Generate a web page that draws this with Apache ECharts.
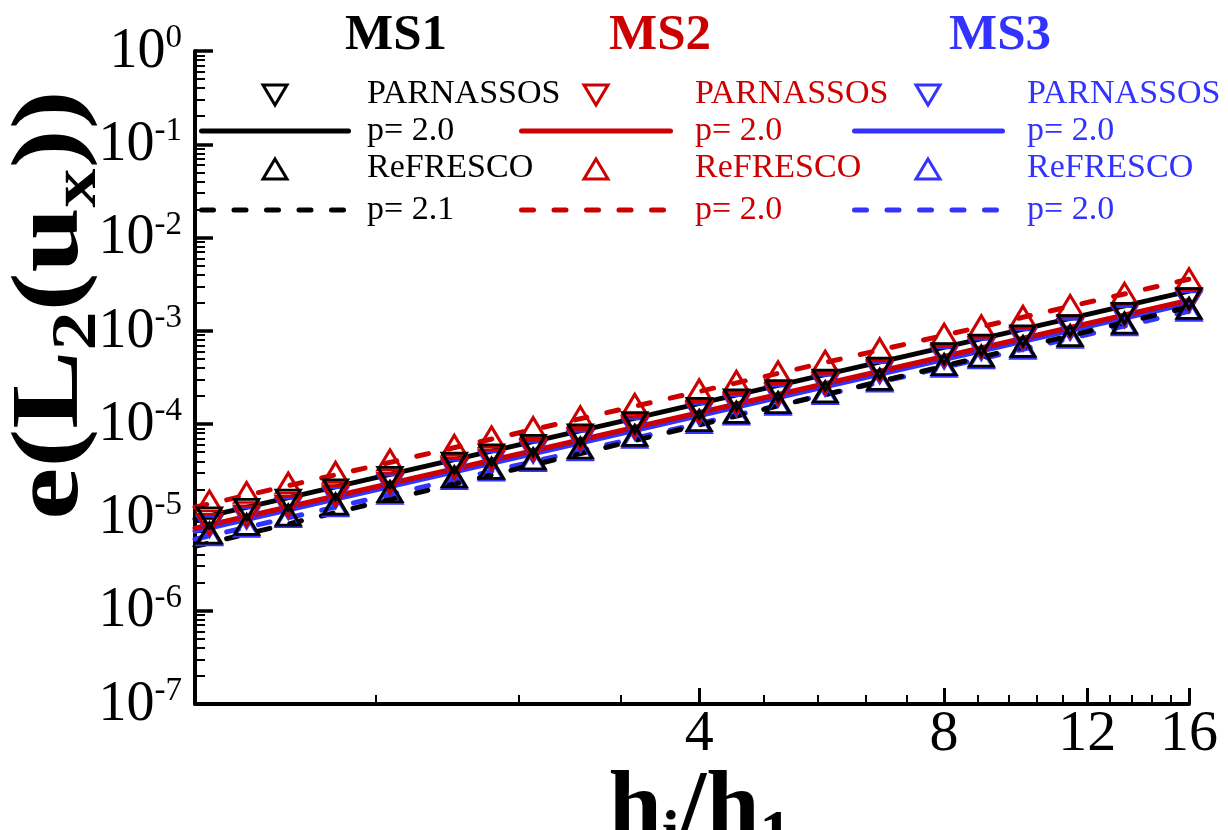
<!DOCTYPE html>
<html>
<head>
<meta charset="utf-8">
<script src="https://cdn.jsdelivr.net/npm/echarts@6/dist/echarts.min.js"></script>
<style>
  html, body { margin: 0; padding: 0; background: #fff; }
  #chart { width: 1228px; height: 830px; }
</style>
</head>
<body>
<div id="chart"></div>
<script>
// Grid refinement ratio h_i/h_1
const hRatio = [1, 1.111, 1.25, 1.429, 1.667, 2, 2.222, 2.5, 2.857, 3.333, 4,
                4.444, 5, 5.714, 6.667, 8, 8.889, 10, 11.43, 13.33, 16];

// L2 error of u_x per solver and grid family
const ms1Parnassos = [9.9e-6, 1.22e-5, 1.53e-5, 1.98e-5, 2.68e-5, 3.83e-5, 4.69e-5, 5.91e-5, 7.67e-5, 1.04e-4, 1.48e-4,
                      1.82e-4, 2.29e-4, 2.97e-4, 3.99e-4, 5.71e-4, 7.03e-4, 8.82e-4, 1.14e-3, 1.54e-3, 2.21e-3];
const ms1Refresco  = [6.8e-6, 8.40e-6, 1.06e-5, 1.39e-5, 1.89e-5, 2.72e-5, 3.36e-5, 4.25e-5, 5.55e-5, 7.56e-5, 1.09e-4,
                      1.34e-4, 1.70e-4, 2.22e-4, 3.02e-4, 4.35e-4, 5.37e-4, 6.80e-4, 8.88e-4, 1.21e-3, 1.74e-3];
const ms2Parnassos = [8.4e-6, 1.04e-5, 1.31e-5, 1.71e-5, 2.33e-5, 3.36e-5, 4.15e-5, 5.25e-5, 6.86e-5, 9.33e-5, 1.34e-4,
                      1.66e-4, 2.10e-4, 2.74e-4, 3.73e-4, 5.38e-4, 6.64e-4, 8.40e-4, 1.10e-3, 1.49e-3, 2.15e-3];
const ms2Refresco  = [1.5e-5, 1.85e-5, 2.33e-5, 3.04e-5, 4.13e-5, 5.92e-5, 7.29e-5, 9.20e-5, 1.20e-4, 1.63e-4, 2.33e-4,
                      2.87e-4, 3.63e-4, 4.73e-4, 6.42e-4, 9.21e-4, 1.13e-3, 1.43e-3, 1.87e-3, 2.53e-3, 3.62e-3];
const ms3Parnassos = [8.0e-6, 9.88e-6, 1.25e-5, 1.63e-5, 2.22e-5, 3.20e-5, 3.95e-5, 5.00e-5, 6.53e-5, 8.89e-5, 1.28e-4,
                      1.58e-4, 2.00e-4, 2.61e-4, 3.56e-4, 5.12e-4, 6.32e-4, 8.00e-4, 1.04e-3, 1.42e-3, 2.05e-3];
const ms3Refresco  = [6.5e-6, 8.03e-6, 1.02e-5, 1.33e-5, 1.81e-5, 2.60e-5, 3.21e-5, 4.06e-5, 5.31e-5, 7.22e-5, 1.04e-4,
                      1.28e-4, 1.63e-4, 2.12e-4, 2.89e-4, 4.16e-4, 5.14e-4, 6.50e-4, 8.49e-4, 1.16e-3, 1.66e-3];

// Power-law fits e = C * (h_i/h_1)^p, order: MS1 PARNASSOS, MS1 ReFRESCO, MS2 ..., MS3 ...
const fitCoef  = [1.04e-5, 5.33e-6, 8.31e-6, 1.40e-5, 7.71e-6, 6.34e-6];
const fitOrder = [2.0, 2.1, 2.0, 2.0, 2.0, 2.0];

const gridNames   = ['MS1', 'MS2', 'MS3'];
const solverNames = ['PARNASSOS', 'ReFRESCO'];
const gridColors  = ['#000000', '#cc0000', '#3333ff'];

// Axis ticks
const xRange = [0.96, 16];
const xLabelTicks = [4, 8, 12, 16];
const xMinorTicks = [1.6, 2.4, 3.2, 4.8, 5.6, 6.4, 7.2, 8.8, 9.6, 10.4, 11.2, 12.8, 13.6, 14.4, 15.2];
const yDecades = [1e-7, 1e-6, 1e-5, 1e-4, 1e-3, 1e-2, 1e-1, 1];
const yMinorSteps = [2, 3, 4, 5, 6, 7, 8, 9];

const serif = '"Liberation Serif", "Times New Roman", serif';
const dashPattern = [12, 20.5];

const errorData = [ms1Parnassos, ms1Refresco, ms2Parnassos, ms2Refresco, ms3Parnassos, ms3Refresco];

const yMinorTicks = [];
yDecades.slice(0, -1).forEach(d => yMinorSteps.forEach(k => yMinorTicks.push(+(d * k).toPrecision(3))));

const fitSeries = [];
const markerSeries = [];
// MS3 first, MS1 last so the black marks end up on top
[2, 1, 0].forEach(g => {
  solverNames.forEach((solver, s) => {
    const idx = g * 2 + s;
    fitSeries.push({
      name: gridNames[g] + ' ' + solver + ' fit',
      type: 'line',
      symbol: 'none',
      silent: true,
      lineStyle: { color: gridColors[g], width: 5, cap: 'round', type: s === 0 ? 'solid' : dashPattern },
      data: xRange.map(x => [x, fitCoef[idx] * Math.pow(x, fitOrder[idx])]),
      z: 2
    });
  });
});
[2, 1, 0].forEach(g => {
  solverNames.forEach((solver, s) => {
    const idx = g * 2 + s;
    markerSeries.push({
      name: gridNames[g] + ' ' + solver,
      type: 'scatter',
      symbol: 'triangle',
      symbolSize: [24, 20],
      symbolRotate: s === 0 ? 180 : 0,
      itemStyle: { color: 'rgba(255,255,255,0)', borderColor: gridColors[g], borderWidth: 3, opacity: 1 },
      data: hRatio.map((x, i) => [x, errorData[idx][i]]),
      z: 3
    });
  });
});

// Legend block: three columns (one per grid family), four rows each
const legendSymbolX = [275, 596, 928];
const legendLineX = [[199, 351], [519, 673], [852, 1005]];
const legendTextX = [367, 695, 1027];
const legendRowY = [95, 131, 169, 210];
const headerX = [396, 660, 1000];

function triangle(cx, cy, down, color) {
  const w = 12, h = 10;
  const pts = down ? [[cx - w, cy - h], [cx + w, cy - h], [cx, cy + h]]
                   : [[cx, cy - h], [cx + w, cy + h], [cx - w, cy + h]];
  return { type: 'polygon', shape: { points: pts }, z: 10,
           style: { fill: 'none', stroke: color, lineWidth: 3 } };
}
function legendText(x, y, text, color) {
  return { type: 'text', x: x, y: y, z: 10,
           style: { text: text, fill: color, fontFamily: serif, fontSize: 34,
                    align: 'left', verticalAlign: 'middle' } };
}
const legendGraphics = [];
gridNames.forEach((ms, g) => {
  const c = gridColors[g];
  const [x1, x2] = legendLineX[g];
  legendGraphics.push({
    type: 'text', x: headerX[g], y: 10, z: 10,
    style: { text: ms, fill: c, fontFamily: serif, fontWeight: 'bold', fontSize: 51,
             align: 'center', verticalAlign: 'top' }
  });
  solverNames.forEach((solver, s) => {
    const idx = g * 2 + s;
    const ySym = legendRowY[s * 2], yLine = legendRowY[s * 2 + 1];
    legendGraphics.push(triangle(legendSymbolX[g], ySym, s === 0, c));
    legendGraphics.push(legendText(legendTextX[g], ySym - 1, solver, c));
    legendGraphics.push({
      type: 'line', z: 10,
      shape: { x1: x1 + 2.5, y1: yLine, x2: x2 - 2.5, y2: yLine },
      style: { stroke: c, lineWidth: 5, lineCap: 'round', lineDash: s === 0 ? null : dashPattern }
    });
    legendGraphics.push(legendText(legendTextX[g], yLine, 'p= ' + fitOrder[idx].toFixed(1), c));
  });
});

const titleRich = {
  m: { fontFamily: serif, fontWeight: 'bold', fontSize: 96, lineHeight: 96, fill: '#000', verticalAlign: 'top' },
  d: { fontFamily: serif, fontWeight: 'bold', fontSize: 64, lineHeight: 64, fill: '#000', verticalAlign: 'top',
       padding: [42, 0, 0, 0] }
};

const chart = echarts.init(document.getElementById('chart'), null, { renderer: 'canvas' });
chart.setOption({
  animation: false,
  backgroundColor: '#ffffff',
  grid: { left: 195, top: 51, right: 39, bottom: 126, containLabel: false },
  xAxis: [
    {
      type: 'log', logBase: 2, min: xRange[0], max: xRange[1], position: 'bottom',
      axisLine: { show: true, lineStyle: { color: '#000', width: 4 } },
      axisTick: { show: true, inside: true, length: 16, customValues: xLabelTicks,
                  lineStyle: { color: '#000', width: 3 } },
      axisLabel: { show: true, customValues: xLabelTicks, margin: 2,
                   fontFamily: serif, fontSize: 58, color: '#000',
                   formatter: v => String(Math.round(v)) },
      splitLine: { show: false }
    },
    {
      type: 'log', logBase: 2, min: xRange[0], max: xRange[1], position: 'bottom',
      axisLine: { show: false },
      axisTick: { show: true, inside: true, length: 9, customValues: xMinorTicks,
                  lineStyle: { color: '#000', width: 2 } },
      axisLabel: { show: false },
      splitLine: { show: false }
    }
  ],
  yAxis: [
    {
      type: 'log', logBase: 10, min: yDecades[0], max: yDecades[yDecades.length - 1], position: 'left',
      axisLine: { show: true, lineStyle: { color: '#000', width: 4 } },
      axisTick: { show: true, inside: true, length: 18, customValues: yDecades,
                  lineStyle: { color: '#000', width: 3.5 } },
      axisLabel: {
        show: true, customValues: yDecades, margin: 13,
        formatter: v => '{b|10}{s|' + Math.round(Math.log10(v)) + '}',
        rich: {
          b: { fontFamily: serif, fontSize: 56, lineHeight: 58, color: '#000', verticalAlign: 'bottom' },
          s: { fontFamily: serif, fontSize: 33, lineHeight: 16, color: '#000', verticalAlign: 'top' }
        }
      },
      splitLine: { show: false }
    },
    {
      type: 'log', logBase: 10, min: yDecades[0], max: yDecades[yDecades.length - 1], position: 'left',
      axisLine: { show: false },
      axisTick: { show: true, inside: true, length: 10, customValues: yMinorTicks,
                  lineStyle: { color: '#000', width: 2 } },
      axisLabel: { show: false },
      splitLine: { show: false }
    }
  ],
  graphic: [
    ...legendGraphics,
    {
      type: 'text', x: 52, y: 305, rotation: Math.PI / 2, scaleX: 1.22, z: 10,
      style: { text: '{m|e(L}{d|2}{m|(u}{d|x}{m|))}', align: 'center', verticalAlign: 'middle', rich: titleRich }
    },
    {
      type: 'text', x: 700, y: 763, z: 10,
      style: { text: '{m|h}{d|i}{m|/h}{d|1}', align: 'center', verticalAlign: 'top', rich: titleRich }
    }
  ],
  series: [...fitSeries, ...markerSeries]
});
</script>
</body>
</html>
